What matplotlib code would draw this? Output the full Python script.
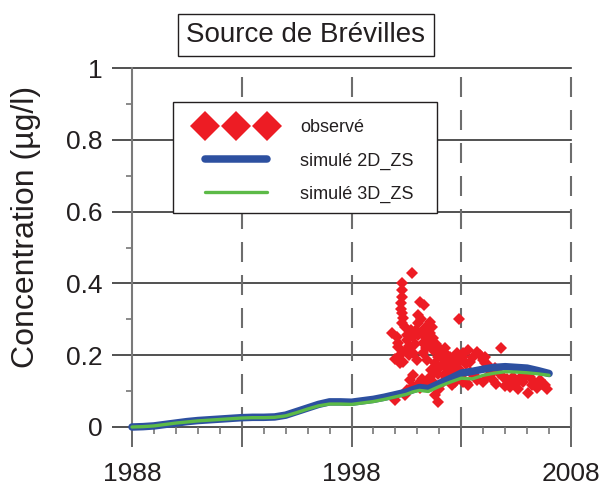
import matplotlib
matplotlib.use("Agg")
import matplotlib.pyplot as plt
from matplotlib.patches import Rectangle

plt.rcParams['font.family'] = ['Liberation Sans', 'DejaVu Sans']

# ---------------- data ----------------
sim_years = [1988.0, 1988.5, 1989.0, 1989.5, 1990.0, 1990.5, 1991.0, 1991.5, 1992.0, 1992.5,
             1993.0, 1993.5, 1994.0, 1994.5, 1995.0, 1995.5, 1996.0, 1996.5, 1997.0, 1997.5,
             1998.0, 1998.5, 1999.0, 1999.5, 2000.0, 2000.5, 2000.8, 2001.1, 2001.5, 2002.0,
             2002.5, 2003.0, 2003.5, 2004.0, 2004.5, 2005.0, 2005.5, 2006.0, 2006.5, 2007.0]
sim_2d = [0.000, 0.001, 0.003, 0.007, 0.011, 0.015, 0.018, 0.020, 0.022, 0.024,
          0.026, 0.027, 0.027, 0.028, 0.033, 0.043, 0.053, 0.063, 0.070, 0.070,
          0.069, 0.073, 0.077, 0.083, 0.090, 0.097, 0.104, 0.110, 0.107, 0.121,
          0.135, 0.150, 0.155, 0.161, 0.166, 0.168, 0.166, 0.164, 0.157, 0.149]
sim_3d = [0.000, 0.001, 0.003, 0.007, 0.011, 0.014, 0.017, 0.019, 0.021, 0.023,
          0.025, 0.026, 0.026, 0.027, 0.031, 0.040, 0.050, 0.059, 0.064, 0.064,
          0.063, 0.067, 0.071, 0.077, 0.084, 0.091, 0.098, 0.102, 0.099, 0.113,
          0.125, 0.136, 0.134, 0.144, 0.150, 0.154, 0.153, 0.151, 0.148, 0.144]

obs_years = [1999.83, 2000.06, 2000.13, 1999.98, 2000.31, 2000.31, 2000.29, 2000.24, 2000.24, 2000.29,
             2000.36, 2000.29, 2000.44, 2000.77, 2000.51, 2000.51, 2000.36, 2000.21, 2000.67, 2000.82,
             2000.82, 2000.82, 2000.97, 2000.51, 2001.04, 2001.12, 2001.32, 2001.04, 2001.17, 2001.04,
             2001.58, 2001.65, 2001.58, 2001.71, 2001.27, 2001.58, 2001.27, 2001.73, 2001.95, 2002.26,
             2002.49, 2002.79, 2003.09, 2001.80, 2002.11, 2002.34, 2002.64, 2001.95, 2001.58, 2001.73,
             2002.18, 2001.80, 2001.95, 2001.12, 2000.80, 2002.91, 2002.26, 2003.09, 2003.32, 2003.70,
             2004.80, 2003.40, 2004.00, 2004.24, 2003.25, 2003.70, 2004.16, 2004.46, 2004.92, 2005.22,
             2005.53, 2005.83, 2006.05, 2006.44, 2006.21, 2005.37, 2006.13, 2002.94, 2002.71, 2002.40,
             2003.40, 2004.45, 2005.68, 2006.59, 2006.82, 2002.58, 2001.44, 2000.98, 2002.03, 2002.79,
             2004.08, 2004.31, 2003.09, 2003.32,
             2000.10, 2000.60, 2000.90, 2001.40, 2001.20, 2000.95, 2000.70, 2001.35, 2001.50, 2001.85,
             2002.00, 2002.15, 2002.45, 2002.60, 2002.95, 2003.20, 2003.55, 2003.85, 2004.10, 2004.55,
             2004.70, 2005.10, 2005.30, 2005.90, 2006.30, 2006.70, 2002.50, 2002.20, 2001.90, 2001.60,
             2000.60, 2000.50, 2000.20, 2000.00, 2001.20, 2002.00, 2002.70, 2003.00, 2003.60, 2004.00,
             2004.60, 2005.00, 2005.60, 2006.90, 2000.70, 2001.50, 2000.44]
obs_vals = [0.261, 0.252, 0.224, 0.075, 0.402, 0.382, 0.363, 0.346, 0.328, 0.317,
            0.303, 0.289, 0.279, 0.430, 0.256, 0.242, 0.182, 0.178, 0.131, 0.145,
            0.252, 0.205, 0.117, 0.103, 0.256, 0.349, 0.340, 0.312, 0.300, 0.289,
            0.293, 0.279, 0.261, 0.248, 0.233, 0.238, 0.205, 0.214, 0.196, 0.205,
            0.196, 0.205, 0.196, 0.177, 0.173, 0.163, 0.168, 0.149, 0.140, 0.126,
            0.126, 0.089, 0.070, 0.108, 0.112, 0.300, 0.220, 0.205, 0.214, 0.210,
            0.219, 0.182, 0.187, 0.173, 0.122, 0.131, 0.140, 0.131, 0.140, 0.112,
            0.122, 0.126, 0.094, 0.108, 0.117, 0.140, 0.140, 0.159, 0.145, 0.136,
            0.153, 0.153, 0.136, 0.131, 0.117, 0.117, 0.187, 0.187, 0.206, 0.178,
            0.178, 0.159, 0.126, 0.117,
            0.235, 0.225, 0.230, 0.220, 0.260, 0.270, 0.270, 0.275, 0.250, 0.230,
            0.220, 0.190, 0.180, 0.190, 0.185, 0.175, 0.195, 0.200, 0.195, 0.165,
            0.150, 0.135, 0.125, 0.140, 0.125, 0.120, 0.150, 0.145, 0.160, 0.160,
            0.200, 0.215, 0.200, 0.190, 0.135, 0.105, 0.125, 0.140, 0.145, 0.125,
            0.120, 0.115, 0.105, 0.105, 0.110, 0.120, 0.090]

y_ticks = [0, 0.2, 0.4, 0.6, 0.8, 1.0]
y_tick_labels = ['0', '0.2', '0.4', '0.6', '0.8', '1']
y_minor = [0.1, 0.3, 0.5, 0.7, 0.9]
x_ticks = [1988, 1993, 1998, 2003, 2008]
x_tick_labels = ['1988', '', '1998', '', '2008']
x_minor = [1989, 1990, 1991, 1992, 1994, 1995, 1996, 1997, 1999,
           2000, 2001, 2002, 2004, 2005, 2006, 2007]
dashed_years = [1993, 1998, 2003, 2008]

RED = '#ed1c24'
BLUE = '#2d50a0'
GREEN = '#5cba47'
TXT = '#231f20'

# ---------------- figure ----------------
W, H = 602, 491
fig = plt.figure(figsize=(W / 100, H / 100), dpi=100)
ax = fig.add_axes([132 / W, 1 - 427 / H, 439 / W, 359 / H])
ax.set_xlim(1988, 2008)
ax.set_ylim(0, 1)
ax.set_facecolor('none')

for s in ['top', 'right', 'bottom']:
    ax.spines[s].set_visible(False)
ax.spines['left'].set_color('#7a7a7a')
ax.spines['left'].set_linewidth(1.5)

ax.set_yticks(y_ticks)
ax.set_yticklabels(y_tick_labels)
ax.set_yticks(y_minor, minor=True)
ax.set_xticks(x_ticks)
ax.set_xticklabels(x_tick_labels)
ax.set_xticks(x_minor, minor=True)

ax.tick_params(axis='y', which='major', length=14.4, width=1.2, color='#333333',
               direction='out', pad=6.5, labelsize=19, labelcolor=TXT)
ax.tick_params(axis='y', which='minor', length=4.3, width=1.2, color='#777777', direction='out')
ax.tick_params(axis='x', which='major', length=14.4, width=1.4, color='#666666',
               direction='out', pad=11, labelsize=19, labelcolor=TXT)
ax.tick_params(axis='x', which='minor', length=5, width=1.2, color='#777777', direction='out')

# horizontal grid lines
for v in y_ticks:
    ax.axhline(v, color='#333333', lw=1.2, zorder=1, clip_on=False)
# vertical dashed grid lines
for yr in dashed_years:
    ax.axvline(yr, ymin=0, ymax=1, color='#6d6d6d', lw=1.5,
               linestyle=(0, (9.6, 6.24)), zorder=1, clip_on=False)

h_obs, = ax.plot(obs_years, obs_vals, linestyle='none', marker='D', markersize=6.2,
                 color=RED, markeredgewidth=0, zorder=2, label='observé')
h2d, = ax.plot(sim_years, sim_2d, color=BLUE, lw=5.4, solid_capstyle='round',
               solid_joinstyle='round', zorder=3, clip_on=False, label='simulé 2D_ZS')
h3d, = ax.plot(sim_years, sim_3d, color=GREEN, lw=2.4, solid_capstyle='round',
               zorder=4, clip_on=False, label='simulé 3D_ZS')

ax.set_ylabel('Concentration (µg/l)', fontsize=23, color=TXT)
ax.yaxis.set_label_coords((41 - 132) / 439, (427 - 227) / 359)

# legend with its own frame
fig.add_artist(Rectangle((173 / W, 1 - 213 / H), 264 / W, 111 / H, transform=fig.transFigure,
                         facecolor='white', edgecolor='#231f20', lw=1.0, zorder=3))
fig.legend(handles=[h_obs, h2d, h3d], loc='center left',
           bbox_to_anchor=(200 / W, 1 - 161 / H), frameon=False, numpoints=3,
           markerscale=2.45, fontsize=13, handlelength=4.0, handletextpad=1.55,
           labelspacing=0.9, borderpad=0, borderaxespad=0, labelcolor=TXT)

# boxed title
fig.text(306 / W, 1 - 35 / H, 'Source de Brévilles', ha='center', va='center',
         fontsize=20, color=TXT,
         bbox=dict(boxstyle='square,pad=0.3', facecolor='white', edgecolor='#231f20', lw=1.0))

fig.savefig('out.png', dpi=100)
